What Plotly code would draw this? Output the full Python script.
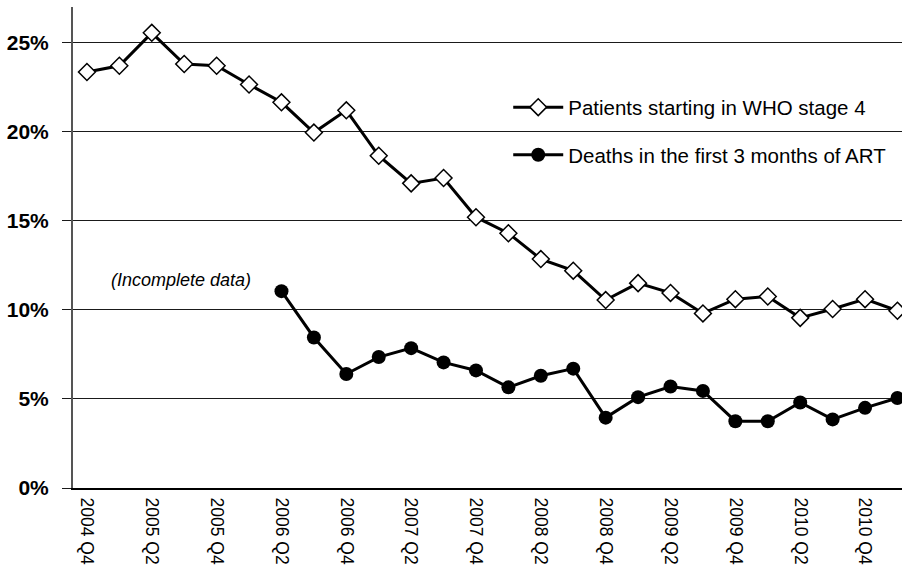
import plotly.graph_objects as go

quarters = ["2004 Q4", "2005 Q1", "2005 Q2", "2005 Q3", "2005 Q4", "2006 Q1", "2006 Q2",
            "2006 Q3", "2006 Q4", "2007 Q1", "2007 Q2", "2007 Q3", "2007 Q4", "2008 Q1",
            "2008 Q2", "2008 Q3", "2008 Q4", "2009 Q1", "2009 Q2", "2009 Q3", "2009 Q4",
            "2010 Q1", "2010 Q2", "2010 Q3", "2010 Q4", "2011 Q1"]

patients_stage4 = [23.35, 23.7, 25.55, 23.8, 23.7, 22.65, 21.65, 19.95, 21.2, 18.65, 17.1,
                   17.4, 15.2, 14.3, 12.85, 12.2, 10.55, 11.5, 10.95, 9.8, 10.6, 10.75,
                   9.55, 10.05, 10.6, 9.95]

deaths_3m = [None, None, None, None, None, None, 11.05, 8.45, 6.4, 7.35, 7.85, 7.05, 6.6,
             5.65, 6.3, 6.7, 3.95, 5.1, 5.7, 5.45, 3.75, 3.75, 4.8, 3.85, 4.5, 5.05]

y_ticks = [0, 5, 10, 15, 20, 25]
x_tick_labels = quarters[::2][:13]

FONT = "Liberation Sans, Arial, Helvetica, sans-serif"

fig = go.Figure()
fig.add_trace(go.Scatter(
    x=quarters, y=patients_stage4, mode="lines+markers",
    name="Patients starting in WHO stage 4", legendgroup="a",
    line=dict(color="black", width=3),
    marker=dict(symbol="diamond", size=13, color="white", line=dict(color="black", width=1.5)),
))
fig.add_trace(go.Scatter(
    x=quarters, y=deaths_3m, mode="lines+markers",
    name="Deaths in the first 3 months of ART", legendgroup="b",
    line=dict(color="black", width=3),
    marker=dict(symbol="circle", size=14, color="black"),
))

fig.add_shape(type="rect", xref="paper", yref="paper", x0=0.4747, x1=1.0, y0=0.61, y1=0.89,
              fillcolor="white", line=dict(width=0), layer="between")

fig.add_annotation(x=2.9, y=11.7, xref="x", yref="y", text="<i>(Incomplete data)</i>",
                   showarrow=False, font=dict(family=FONT, size=18, color="black"))

fig.update_layout(
    width=902, height=571,
    margin=dict(l=73, r=0, t=7, b=83, autoexpand=False),
    paper_bgcolor="white", plot_bgcolor="white",
    font=dict(family=FONT, color="black"),
    showlegend=True,
    legend=dict(x=0.525, y=0.833, xanchor="left", yanchor="top",
                bgcolor="rgba(0,0,0,0)", font=dict(family=FONT, size=20.5, color="black"),
                traceorder="grouped", tracegroupgap=18, itemwidth=50),
)
fig.update_xaxes(
    type="category", range=[-0.43, 25.14],
    tickvals=x_tick_labels, ticktext=x_tick_labels, tickangle=90,
    tickfont=dict(family=FONT, size=17.5, color="black"),
    showgrid=False, showline=True, linecolor="black", linewidth=2, ticks="",
    zeroline=False, ticklabelstandoff=4,
)
fig.update_yaxes(
    range=[0, 27], tickvals=y_ticks, ticktext=[f"{v}%" for v in y_ticks],
    tickfont=dict(family=FONT, size=21, color="black", weight="bold"),
    showgrid=True, gridcolor="#1a1a1a", gridwidth=1.4,
    ticks="outside", ticklen=9, tickcolor="#1a1a1a", tickwidth=1.4,
    showline=True, linecolor="#555", linewidth=2, zeroline=False,
    ticklabelstandoff=9,
)

fig.write_html("out.html", config={"displayModeBar": False},
               post_script="document.body.style.margin='0';")
